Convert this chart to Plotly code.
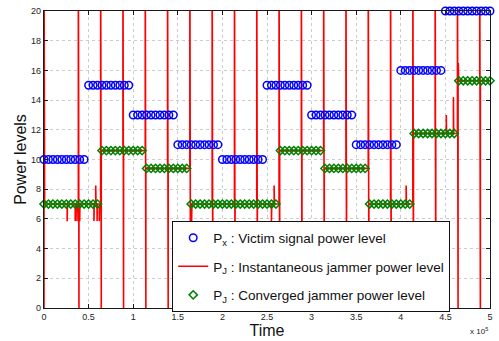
import numpy as np
import plotly.graph_objects as go

# Time axis (samples)
t_end = 500000
sample_step = 5000

# Victim signal power: one level per 50k-sample block
block_len = 50000
victim_levels = [10, 15, 13, 11, 10, 15, 13, 11, 16, 20]

# Converged jammer power: level held from each change time onward
conv_change_times = [0, 63500, 113500, 163500, 263500, 313500, 363500, 413500, 463500]
conv_levels = [7, 10.6, 9.4, 7, 10.6, 9.4, 7, 11.75, 15.3]

# Jammer resets: the instantaneous power sweeps the full scale
reset_times = [0, 38500, 63500, 88500, 113500, 138500, 163500, 188500, 213500,
               238500, 263500, 288500, 313500, 338500, 363500, 388500, 413500,
               438500, 463500, 488500]
reset_peak = 25

# Brief excursions of the instantaneous power
glitch_times = [26000, 35000, 37000, 40000, 56000, 58000, 59500, 62000,
                164000, 165500, 255000, 258000, 406000, 451000, 459000, 464500]
glitch_values = [5.85, 5.85, 5.85, 5.85, 5.85, 8.25, 5.85, 5.85,
                 8.25, 5.85, 5.85, 8.25, 8.25, 13.0, 14.2, 16.5]

# Axis ticks
x_tick_vals = [0, 50000, 100000, 150000, 200000, 250000, 300000, 350000, 400000, 450000, 500000]
x_tick_labels = ["0", "0.5", "1", "1.5", "2", "2.5", "3", "3.5", "4", "4.5", "5"]
y_tick_vals = [0, 2, 4, 6, 8, 10, 12, 14, 16, 18, 20]


def conv_level(t):
    i = int(np.searchsorted(conv_change_times, t, side="right")) - 1
    return conv_levels[max(i, 0)]


# Instantaneous jammer trace: converged level with resets and glitches
events = sorted([(t, 0, None) for t in reset_times] +
                [(t, 1, v) for t, v in zip(glitch_times, glitch_values)],
                key=lambda e: e[0])
jx, jy = [], []
for t, kind, v in events:
    if kind == 0:
        before = conv_level(t - 1) if t > 0 else 0
        jx += [t, t, t + 700, t + 700]
        jy += [before, reset_peak, 0, conv_level(t + 700)]
    else:
        lvl = conv_level(t)
        jx += [t, t, t + 300]
        jy += [lvl, v, lvl]
jx.append(t_end)
jy.append(conv_level(t_end))

marker_t = np.arange(0, t_end + 1, sample_step)
victim_y = [victim_levels[min(int(t // block_len), len(victim_levels) - 1)] for t in marker_t]
conv_y = [conv_level(t) for t in marker_t]

fig = go.Figure()
fig.add_trace(go.Scatter(
    x=jx, y=jy, mode="lines", name="P<sub>J</sub> : Instantaneous jammer power level",
    line=dict(color="#ff0000", width=1.6), legendrank=2, legendgroup="b",
))
fig.add_trace(go.Scatter(
    x=marker_t, y=victim_y, mode="markers", name="P<sub>x</sub> : Victim signal power level",
    marker=dict(symbol="circle-open", size=7.5, color="#0000ff", line=dict(width=1.5)),
    cliponaxis=False, legendrank=1, legendgroup="a",
))
fig.add_trace(go.Scatter(
    x=marker_t, y=conv_y, mode="markers", name="P<sub>J</sub> : Converged jammer power level",
    marker=dict(symbol="diamond-open", size=6.3, color="#008000", line=dict(width=1.5)),
    cliponaxis=False, legendrank=3, legendgroup="c",
))

axis_common = dict(
    showline=True, linecolor="#1a1a1a", linewidth=1.2, mirror="ticks",
    ticks="inside", ticklen=4, tickcolor="#1a1a1a",
    showgrid=True, gridcolor="#cccccc", griddash="dot", gridwidth=1,
    zeroline=False, tickfont=dict(size=9, color="#222"),
)
fig.update_xaxes(range=[0, t_end], tickvals=x_tick_vals, ticktext=x_tick_labels,
                 title=dict(text="Time", font=dict(size=16, color="#111"), standoff=2),
                 **axis_common)
fig.update_yaxes(range=[0, 20], tickvals=y_tick_vals,
                 title=dict(text="Power levels", font=dict(size=16, color="#111"), standoff=0),
                 **axis_common)

fig.update_layout(
    width=499, height=341,
    margin=dict(l=44, r=8, t=6, b=30),
    paper_bgcolor="white", plot_bgcolor="white",
    font=dict(family="Liberation Sans, Arial, sans-serif", size=9, color="#222"),
    legend=dict(
        x=0.287, y=0.292, xanchor="left", yanchor="top",
        bgcolor="white", bordercolor="#111", borderwidth=1.2,
        font=dict(size=13.5, color="#111"), tracegroupgap=8,
        traceorder="grouped",
    ),
    annotations=[dict(
        text="x 10<sup>5</sup>", xref="paper", yref="paper", x=1.0, y=-0.078,
        xanchor="right", yanchor="middle", showarrow=False,
        font=dict(size=8, color="#222"),
    )],
)

fig.write_html("out.html")
